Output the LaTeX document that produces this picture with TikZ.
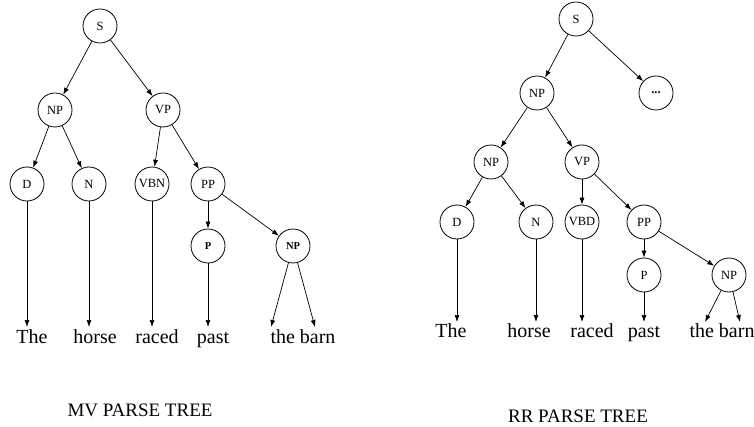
\documentclass[tikz,border=0pt]{standalone}
\usepackage{fontspec}
\setmainfont{Liberation Serif}
\usetikzlibrary{arrows.meta}
\begin{document}
\begin{tikzpicture}[x=1pt,y=-1pt,
  cat/.style={circle,draw,line width=0.8pt,minimum size=34pt,inner sep=0pt,font=\fontsize{12.5}{12.5}\selectfont},
  bcat/.style={cat,font=\fontsize{10.5}{10.5}\selectfont\bfseries},
  word/.style={anchor=base,inner sep=0pt,font=\fontsize{20}{20}\selectfont},
  title/.style={anchor=base,inner sep=0pt,font=\fontsize{19}{19}\selectfont},
  edge/.style={line width=0.7pt,-{Latex[length=7pt,width=5pt]}}]
\useasboundingbox (0,0) rectangle (754,427);

% ---- main-verb analysis ----
\node[cat] (S)   at (100,26)  {S};
\node[cat] (NP)  at (55,110)  {NP};
\node[cat] (VP)  at (163,110) {VP};
\node[cat] (D)   at (27,184)  {D};
\node[cat] (N)   at (89,184)  {N};
\node[cat] (VBN) at (152,184) {VBN};
\node[cat] (PP)  at (208,184) {PP};
\node[bcat] (P)  at (208,246) {P};
\node[bcat] (NPb) at (293,246) {NP};

\node[word] (wThe)   at (32,343)  {The};
\node[word] (wHorse) at (95,343)  {horse};
\node[word] (wRaced) at (157,343) {raced};
\node[word] (wPast)  at (213,343) {past};
\node[word] (wBarn)  at (303,343) {the barn};
\node[title] (tMV)   at (140,416) {MV PARSE TREE};

\coordinate (aThe)   at (27,327);
\coordinate (aHorse) at (89,327);
\coordinate (aRaced) at (152,327);
\coordinate (aPast)  at (208,327);
\coordinate (aThe2)  at (271,327);
\coordinate (aBarn)  at (315,327);

\draw[edge] (S) -- (NP);
\draw[edge] (S) -- (VP);
\draw[edge] (NP) -- (D);
\draw[edge] (NP) -- (N);
\draw[edge] (VP) -- (VBN);
\draw[edge] (VP) -- (PP);
\draw[edge] (PP) -- (P);
\draw[edge] (PP) -- (NPb);
\draw[edge] (D) -- (aThe);
\draw[edge] (N) -- (aHorse);
\draw[edge] (VBN) -- (aRaced);
\draw[edge] (P) -- (aPast);
\draw[edge] (NPb) -- (aThe2);
\draw[edge] (NPb) -- (aBarn);

% ---- reduced-relative analysis ----
\node[cat] (rS)   at (576,19)  {S};
\node[cat] (rNP)  at (537,93)  {NP};
\node[cat] (rDots) at (656,93) {\textbf{...}};
\node[cat] (rNPi) at (491,162) {NP};
\node[cat] (rVP)  at (582,162) {VP};
\node[cat] (rD)   at (457,222) {D};
\node[cat] (rN)   at (536,222) {N};
\node[cat] (rVBD) at (582,222) {VBD};
\node[cat] (rPP)  at (644,222) {PP};
\node[cat] (rP)   at (644,275) {P};
\node[cat] (rNPb) at (729,275) {NP};

\node[word] (rwThe)   at (451,337) {The};
\node[word] (rwHorse) at (529,337) {horse};
\node[word] (rwRaced) at (592,337) {raced};
\node[word] (rwPast)  at (644,337) {past};
\node[word] (rwBarn)  at (722,337) {the barn};
\node[title] (tRR)    at (578,422) {RR PARSE TREE};

\coordinate (raThe)   at (457,322);
\coordinate (raHorse) at (536,322);
\coordinate (raRaced) at (582,322);
\coordinate (raPast)  at (644,322);
\coordinate (raThe2)  at (705,322);
\coordinate (raBarn)  at (740,322);

\draw[edge] (rS) -- (rNP);
\draw[edge] (rS) -- (rDots);
\draw[edge] (rNP) -- (rNPi);
\draw[edge] (rNP) -- (rVP);
\draw[edge] (rNPi) -- (rD);
\draw[edge] (rNPi) -- (rN);
\draw[edge] (rVP) -- (rVBD);
\draw[edge] (rVP) -- (rPP);
\draw[edge] (rPP) -- (rP);
\draw[edge] (rPP) -- (rNPb);
\draw[edge] (rD) -- (raThe);
\draw[edge] (rN) -- (raHorse);
\draw[edge] (rVBD) -- (raRaced);
\draw[edge] (rP) -- (raPast);
\draw[edge] (rNPb) -- (raThe2);
\draw[edge] (rNPb) -- (raBarn);
\end{tikzpicture}
\end{document}
